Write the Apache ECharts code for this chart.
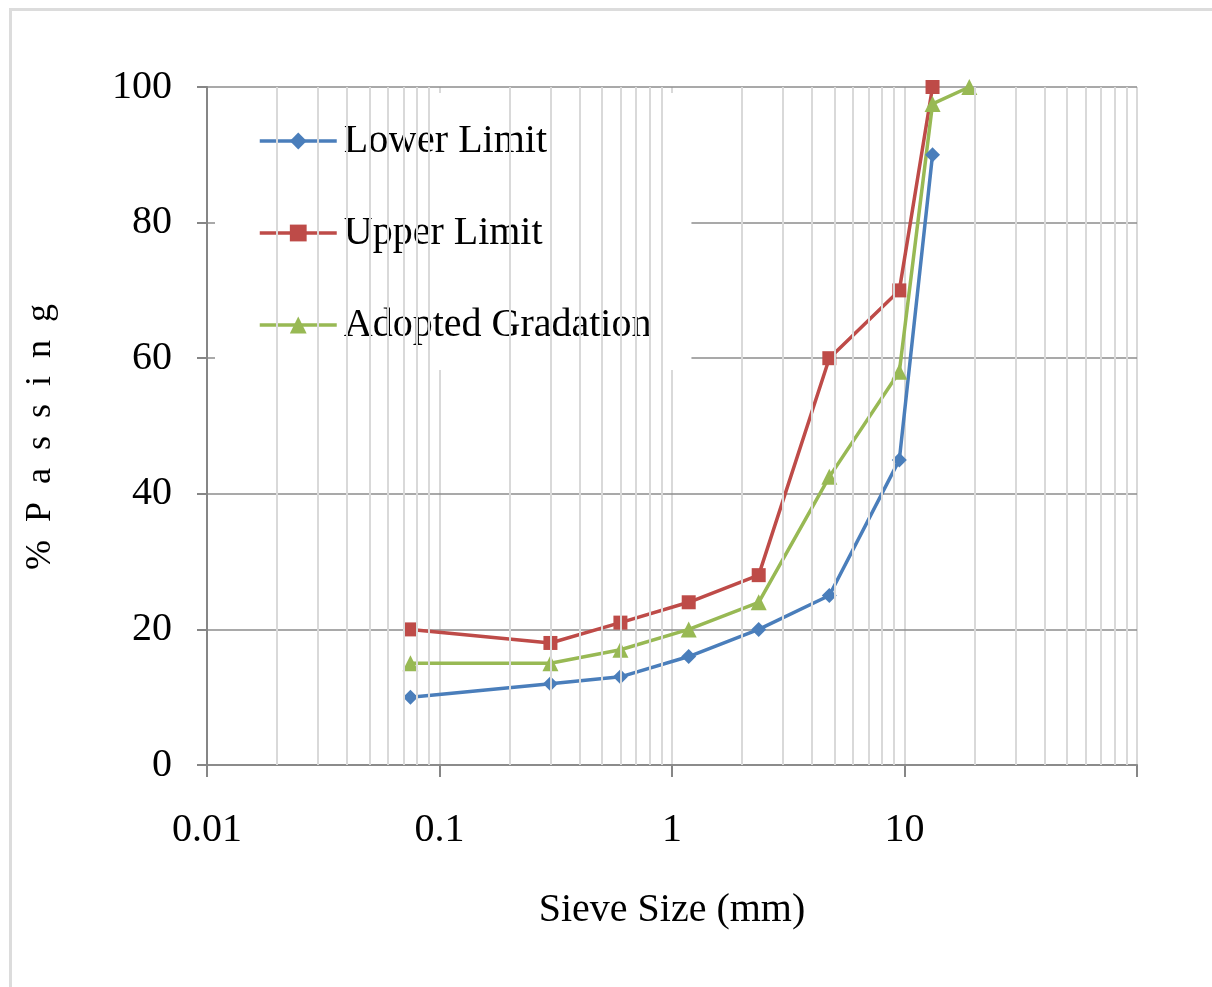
<!DOCTYPE html>
<html>
<head>
<meta charset="utf-8">
<title>Sieve Analysis</title>
<script src="https://cdn.jsdelivr.net/npm/echarts@6/dist/echarts.min.js"></script>
<style>
  html, body { margin: 0; padding: 0; background: #fff; }
  #chart { width: 1212px; height: 987px; }
</style>
</head>
<body>
<div id="chart"></div>
<script>
// sieve sizes (mm)
const sieveSizes = [0.075, 0.3, 0.6, 1.18, 2.36, 4.75, 9.5, 13.2, 19]
// % passing
const lowerLimit = [10, 12, 13, 16, 20, 25, 45, 90, null]
const upperLimit = [20, 18, 21, 24, 28, 60, 70, 100, null]
const adoptedGradation = [15, 15, 17, 20, 24, 42.5, 58, 97.5, 100]

const xTickLabels = ['0.01', '0.1', '1', '10']
const yTicks = [0, 20, 40, 60, 80, 100]
// minor vertical gridlines of the log axis
const minorGridValues = [
  0.02, 0.03, 0.04, 0.05, 0.06, 0.07, 0.08, 0.09,
  0.2, 0.3, 0.4, 0.5, 0.6, 0.7, 0.8, 0.9,
  2, 3, 4, 5, 6, 7, 8, 9,
  20, 30, 40, 50, 60, 70, 80, 90
]

const serif = "'Liberation Serif', 'Times New Roman', serif"

const toPairs = (values) => sieveSizes
  .map((size, i) => [size, values[i]])
  .filter(p => p[1] !== null)

const chart = echarts.init(document.getElementById('chart'))

const option = {
  backgroundColor: '#fff',
  animation: false,
  graphic: [
    {
      type: 'rect',
      left: 8,
      top: 7,
      shape: { width: 1400, height: 1200 },
      style: { fill: 'none', stroke: '#dcdcdc', lineWidth: 3 },
      silent: true
    }
  ],
  grid: {
    left: 207,
    right: 75,
    top: 87,
    bottom: 222
  },
  legend: {
    data: ['Lower Limit', 'Upper Limit', 'Adopted Gradation'],
    orient: 'vertical',
    left: 215,
    top: 93,
    padding: [28, 40, 25, 43],
    itemGap: 52,
    itemWidth: 77,
    itemHeight: 21,
    backgroundColor: '#fff',
    lineStyle: { width: 3.5 },
    textStyle: {
      fontFamily: serif,
      fontSize: 40,
      lineHeight: 40,
      color: '#000',
      padding: [0, 0, 0, 2]
    }
  },
  xAxis: {
    type: 'log',
    logBase: 10,
    min: 0.01,
    max: 100,
    name: 'Sieve Size (mm)',
    nameLocation: 'middle',
    nameGap: 125,
    nameTextStyle: { fontFamily: serif, fontSize: 40, color: '#000' },
    axisLine: { show: true, lineStyle: { color: '#868686', width: 2 } },
    axisTick: { show: true, length: 12, lineStyle: { color: '#868686', width: 2 } },
    axisLabel: {
      margin: 45,
      fontFamily: serif,
      fontSize: 40,
      color: '#000',
      formatter: (v) => {
        const label = xTickLabels.find(t => Math.abs(parseFloat(t) - v) < 1e-9)
        return label || ''
      }
    },
    splitLine: { show: true, lineStyle: { color: '#d9d9d9', width: 2 } }
  },
  yAxis: {
    type: 'value',
    min: yTicks[0],
    max: yTicks[yTicks.length - 1],
    interval: 20,
    z: 1.5,
    name: '%  P  a  s  s  i  n  g',
    nameLocation: 'middle',
    nameGap: 148,
    nameTextStyle: { fontFamily: serif, fontSize: 36, color: '#000', padding: [0, 0, 0, -22] },
    axisLine: { show: true, lineStyle: { color: '#868686', width: 2 } },
    axisTick: { show: true, length: 10, lineStyle: { color: '#868686', width: 2 } },
    axisLabel: {
      margin: 35,
      fontFamily: serif,
      fontSize: 40,
      color: '#000'
    },
    splitLine: { show: true, lineStyle: { color: '#8c8c8c', width: 1.5 } }
  },
  series: [
    {
      name: 'minor grid',
      type: 'line',
      data: [],
      z: 1,
      silent: true,
      markLine: {
        silent: true,
        symbol: 'none',
        animation: false,
        label: { show: false },
        lineStyle: { color: '#d9d9d9', width: 2, type: 'solid' },
        emphasis: { disabled: true },
        data: minorGridValues.map(v => ({ xAxis: v }))
      }
    },
    {
      name: 'Lower Limit',
      type: 'line',
      data: toPairs(lowerLimit),
      symbol: 'diamond',
      symbolSize: 15,
      lineStyle: { color: '#4a7ebb', width: 3.5 },
      itemStyle: { color: '#4a7ebb' }
    },
    {
      name: 'Upper Limit',
      type: 'line',
      data: toPairs(upperLimit),
      symbol: 'rect',
      symbolSize: 14,
      lineStyle: { color: '#be4b48', width: 3.5 },
      itemStyle: { color: '#be4b48' }
    },
    {
      name: 'Adopted Gradation',
      type: 'line',
      data: toPairs(adoptedGradation),
      symbol: 'triangle',
      symbolSize: 16,
      lineStyle: { color: '#98b954', width: 3.5 },
      itemStyle: { color: '#98b954' }
    }
  ]
}

chart.setOption(option)

window.addEventListener('resize', () => chart.resize())
</script>
</body>
</html>
